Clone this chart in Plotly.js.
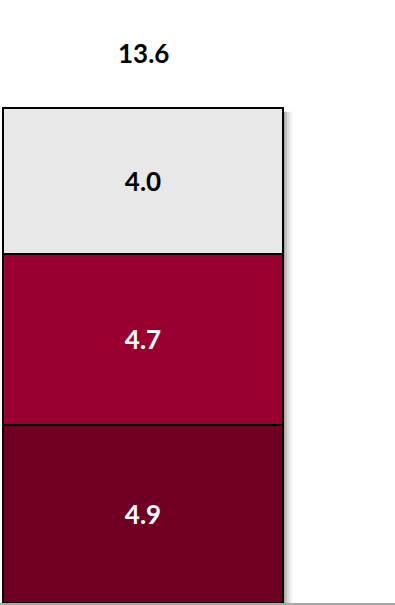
<!DOCTYPE html>
<html>
<head>
<meta charset="utf-8">
<script src="https://cdn.plot.ly/plotly-3.0.1.min.js"></script>
<style>html,body{margin:0;padding:0;background:#fff;}#chart{width:395px;height:605px;}</style>
</head>
<body>
<div id="chart"></div>
<script>
const categories = ["Total"];
const seriesNames = ["Bottom", "Middle", "Top"];
const bottomValues = [4.9];
const middleValues = [4.7];
const topValues = [4.0];
const totalValues = [13.6];

const colors = ["#6f0024", "#990030", "#e8e8e8"];
const textColors = ["#ffffff", "#ffffff", "#000000"];
const FONT = "Lato, 'Open Sans', sans-serif";
const seriesValues = [bottomValues, middleValues, topValues];

const traces = seriesValues.map((vals, i) => ({
  type: "bar",
  x: categories.map((c, j) => j),
  y: vals,
  name: seriesNames[i],
  width: 1,
  marker: { color: colors[i], line: { color: "#000000", width: 2 } },
  text: vals.map(v => v.toFixed(1)),
  texttemplate: "%{text}",
  textposition: "inside",
  insidetextanchor: "middle",
  textangle: 0,
  textfont: { family: FONT, size: 26, color: textColors[i], weight: 700 },
  hoverinfo: "skip"
}));

const shapes = [];
const shadowSteps = [[0, 2, 0.35], [2, 4, 0.25], [4, 6, 0.15], [6, 8, 0.08], [8, 10, 0.03]];
categories.forEach((c, j) => {
  shadowSteps.forEach(s => {
    shapes.push({
      type: "rect", layer: "below", xref: "x", yref: "y",
      xsizemode: "pixel", xanchor: j + 0.5, x0: s[0], x1: s[1],
      y0: 0, y1: totalValues[j] - 0.1,
      fillcolor: "rgba(0,0,0," + s[2] + ")", line: { width: 0 }
    });
  });
});

const annotations = categories.map((c, j) => ({
  x: j, y: totalValues[j], xref: "x", yref: "y",
  text: "<b>" + totalValues[j].toFixed(1) + "</b>",
  showarrow: false, yanchor: "bottom", yshift: 37,
  font: { family: FONT, size: 26, color: "#000000" }
}));

const layout = {
  width: 395, height: 605,
  margin: { l: 0, r: 0, t: 0, b: 2 },
  barmode: "stack",
  showlegend: false,
  paper_bgcolor: "#ffffff",
  plot_bgcolor: "#ffffff",
  xaxis: { range: [-0.5107, 0.9], showticklabels: false, showgrid: false, zeroline: false,
           showline: true, linecolor: "#a6a6a6", linewidth: 2, ticks: "", fixedrange: true },
  yaxis: { range: [0, 16.57], showticklabels: false, showgrid: false, zeroline: false,
           showline: false, ticks: "", fixedrange: true },
  shapes: shapes,
  annotations: annotations
};

Plotly.newPlot("chart", traces, layout, { displayModeBar: false, staticPlot: true });
</script>
</body>
</html>
